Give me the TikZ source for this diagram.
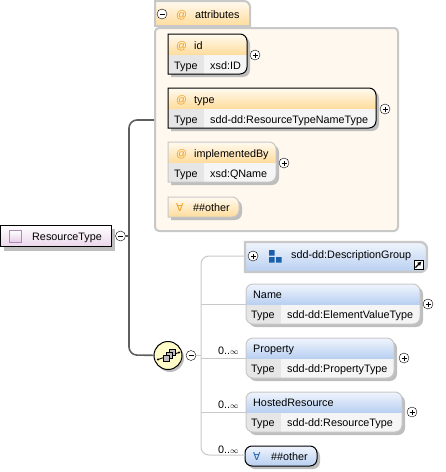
\documentclass[tikz,border=0pt]{standalone}
\usepackage{fontspec}
\setmainfont{Liberation Sans}
\newfontfamily\symfont{DejaVu Sans}
\usepackage{xcolor}
\usetikzlibrary{calc,fit,positioning,arrows.meta}
\definecolor{boxgray}{RGB}{200,200,200}
\definecolor{shadegray}{RGB}{190,190,190}
\definecolor{trunkgray}{RGB}{95,95,95}
\definecolor{creamfill}{RGB}{255,248,238}
\definecolor{orangetop}{RGB}{255,250,240}
\definecolor{orangelow}{RGB}{255,220,155}
\definecolor{bluetop}{RGB}{240,245,253}
\definecolor{bluelow}{RGB}{184,207,241}
\definecolor{typecell}{RGB}{230,230,230}
\definecolor{valcell}{RGB}{245,245,245}
\definecolor{atsign}{RGB}{238,160,36}
\definecolor{groupblue}{RGB}{28,96,172}
\newcommand{\tabpath}[4]{(#1,#2) [rounded corners=7pt] -- (#3,#2) -- (#3,#4) [sharp corners] -- (#1,#4) -- cycle}

\begin{document}
\begin{tikzpicture}[x=1pt,y=-1pt,font=\fontsize{10.8}{12}\selectfont,
      txt/.style={anchor=base west, inner sep=0pt},
      sym/.style={anchor=base west, inner sep=0pt, text=atsign},
      expnd/.style={circle, draw, fill=white, minimum size=10pt, inner sep=0pt},
      plusbtn/.style={expnd, path picture={\draw (path picture bounding box.center) +(-2.5pt,0) -- +(2.5pt,0) +(0,-2.5pt) -- +(0,2.5pt);}},
      minusbtn/.style={expnd, path picture={\draw (path picture bounding box.center) +(-2.5pt,0) -- +(2.5pt,0);}},
      holder/.style={inner sep=0pt, outer sep=0pt},
      trunk/.style={draw=trunkgray, line width=1.6pt, rounded corners=8pt},
      branch/.style={draw=boxgray, line width=1pt, rounded corners=8pt},
      square/.style={draw=black, fill=shadegray, line width=.7pt}]
    \useasboundingbox (0,0) rectangle (446,472);

    % connectors first
    \coordinate (attr-in) at (154,120);
    \coordinate (trunk-top) at (129,120);
    \coordinate (trunk-bot) at (129,355);
    \coordinate (trunk-mid) at (129,236);
    \coordinate (branch-top) at (201,256);
    \coordinate (branch-bot) at (201,455);

    % root element
    \fill[shadegray] (4,229) rectangle (115,251);
    \node[draw, holder, line width=1pt, top color=white, bottom color=violet!16,
          fit={(.5,225.5) (111.5,246.5)}] (root) {};
    \node[holder, draw={rgb,255:red,176;green,136;blue,192}, line width=1pt, top color=white, bottom color=violet!20,
          minimum size=12pt] (root-icon) at (15.5,236.5) {};
    \node[txt] (root-lab) at (32,240) {ResourceType};
    \node[minusbtn] (root-minus) at (120.5,236) {};
    \draw[trunk, sharp corners] (root-minus) -- (trunk-mid);

    % attribute group
    \node[holder, draw=boxgray, line width=2pt, fill=creamfill, rounded corners=4pt,
          fit={(155,28) (398,231)}] (attr-box) {};
    \draw[draw=boxgray, line width=2pt, top color=orangetop, bottom color=orangelow]
      (155,26) -- (155,1) [rounded corners=6pt] -- (250,1) [sharp corners] -- (250,26) -- cycle;
    \node[minusbtn] (attr-minus) at (162,14) {};
    \node[sym] (attr-at) at (176,18) {@};
    \node[txt] (attr-lab) at (195,18) {attributes};

    \foreach \mode/\lab/\typ/\xa/\xb/\ya/\lc/\pp in {id/id/xsd:ID/168/247/34/black/255,
                                        type/type/sdd-dd:ResourceTypeNameType/168/376/88/black/385,
                                        impl/implementedBy/xsd:QName/168/276/142/boxgray/284} {
      \fill[shadegray] \tabpath{\xa+3}{\ya+3}{\xb+3}{\ya+43};
      \begin{scope}
        \clip \tabpath{\xa}{\ya}{\xb}{\ya+40};
        \shade[top color=orangetop, bottom color=orangelow] (\xa,\ya) rectangle (\xb,\ya+21);
        \fill[typecell] (\xa,\ya+21) rectangle (204,\ya+40);
        \fill[valcell] (204,\ya+21) rectangle (\xb,\ya+40);
      \end{scope}
      \draw[\lc, line width=1pt] \tabpath{\xa}{\ya}{\xb}{\ya+40};
      \node[holder, fit={(\xa,\ya) (\xb,\ya+40)}] (\mode) {};
      \node[sym] (at-\mode) at (176,\ya+15) {@};
      \node[txt] (lab-\mode) at (194,\ya+15) {\lab};
      \node[txt] (typ-\mode) at (174,\ya+35) {Type};
      \node[txt] (val-\mode) at (210,\ya+35) {\typ};
      \node[plusbtn] (plus-\mode) at (\pp,\ya+21) {};
    }
    \fill[shadegray] \tabpath{171}{200}{242}{220};
    \draw[boxgray, line width=1pt, top color=orangetop, bottom color=orangelow] \tabpath{168}{197}{239}{217};
    \node[holder, fit={(168,197) (239,217)}] (attr-other) {};
    \node[sym] (attr-forall) at (176,211) {\symfont ∀};
    \node[txt] (attr-otherlab) at (193,211) {\#\#other};

    % sequence compositor
    \fill[shadegray] (170,358) circle (14pt);
    \node[circle, draw, holder, fill=yellow!22, line width=1pt, minimum size=28pt] (seq) at (168,355.5) {};
    \draw[trunk] (attr-in) -- (trunk-top) -- (trunk-bot) -- (seq);
    \draw[line width=.9pt] (158,359.5) -- (179,352.5);
    \fill (158,359.5) circle (1.2pt) (179,352.5) circle (1.2pt);
    \draw[square] (169.5,349.5) rectangle (175.5,355.5);
    \draw[square] (166.5,352.5) rectangle (172.5,358.5);
    \draw[square] (163,355.5) rectangle (169,361.5);
    \node[minusbtn] (seq-minus) at (191,355.5) {};

    % description group
    \draw[boxgray, line width=2.4pt, top color=bluetop, bottom color=bluelow] \tabpath{245}{242}{427}{272};
    \node[holder, fit={(245,242) (427,272)}] (desc) {};
    \node[plusbtn] (desc-plus) at (253,256) {};
    \fill[groupblue] (269,250) rectangle (274.5,255.5) (269,257) rectangle (274.5,262.5) (276,257) rectangle (281.5,262.5);
    \node[txt] (desc-lab) at (291,258.5) {sdd-dd:DescriptionGroup};
    \node[holder, draw, line width=1pt, fill=white, minimum size=9pt] (desc-link) at (418.5,264.5) {};
    \draw[line width=1.3pt, -{Latex[length=4pt,width=4.5pt]}] (desc-link.south west) ++(1.5,-1.5) -- ++(6,-6);

    % child elements
    \foreach \mode/\lab/\typ/\xb/\ya/\pp in {Name/Name/sdd-dd:ElementValueType/420/284/428,
                                              Property/Property/sdd-dd:PropertyType/394/338/404,
                                              Hosted/HostedResource/sdd-dd:ResourceType/402/392/412} {
      \fill[shadegray, rounded corners=7pt] (249,\ya+3) rectangle (\xb+3,\ya+43);
      \begin{scope}
        \clip[rounded corners=7pt] (246,\ya) rectangle (\xb,\ya+40);
        \shade[top color=bluetop, bottom color=bluelow] (246,\ya) rectangle (\xb,\ya+20.5);
        \fill[typecell] (246,\ya+20.5) rectangle (281,\ya+40);
        \fill[valcell] (281,\ya+20.5) rectangle (\xb,\ya+40);
      \end{scope}
      \draw[boxgray, line width=1pt, rounded corners=7pt] (246,\ya) rectangle (\xb,\ya+40);
      \node[holder, fit={(246,\ya) (\xb,\ya+40)}] (\mode) {};
      \node[txt] (lab-\mode) at (253,\ya+14) {\lab};
      \node[txt] (typ-\mode) at (251,\ya+34) {Type};
      \node[txt] (val-\mode) at (287,\ya+34) {\typ};
      \node[plusbtn] (plus-\mode) at (\pp,\ya+20) {};
    }
    \fill[shadegray, rounded corners=7pt] (248,449) rectangle (320,469);
    \node[holder, draw, line width=1pt, rounded corners=7pt, top color=bluetop, bottom color=bluelow,
          fit={(245,446) (317,466)}] (other) {};
    \node[txt, text=groupblue] (other-forall) at (253,460) {\symfont ∀};
    \node[txt] (other-lab) at (271,460) {\#\#other};

    \draw[branch] (desc.west |- branch-top) -- (branch-top) -- (branch-bot) -- (other.west |- branch-bot);
    \draw[branch, sharp corners] (seq-minus) -- (seq-minus -| branch-top);
    \draw[branch, sharp corners] (Name.west) -- (Name.west -| branch-top);
    \draw[branch, sharp corners] (Property.west) -- (Property.west -| branch-top);
    \draw[branch, sharp corners] (Hosted.west) -- (Hosted.west -| branch-top);

    \node[txt] (occ-prop) at (218,354) {0..$\scriptstyle\infty$};
    \node[txt] (occ-host) at (218,408) {0..$\scriptstyle\infty$};
    \node[txt] (occ-other) at (218,453) {0..$\scriptstyle\infty$};
  \end{tikzpicture}
\end{document}
